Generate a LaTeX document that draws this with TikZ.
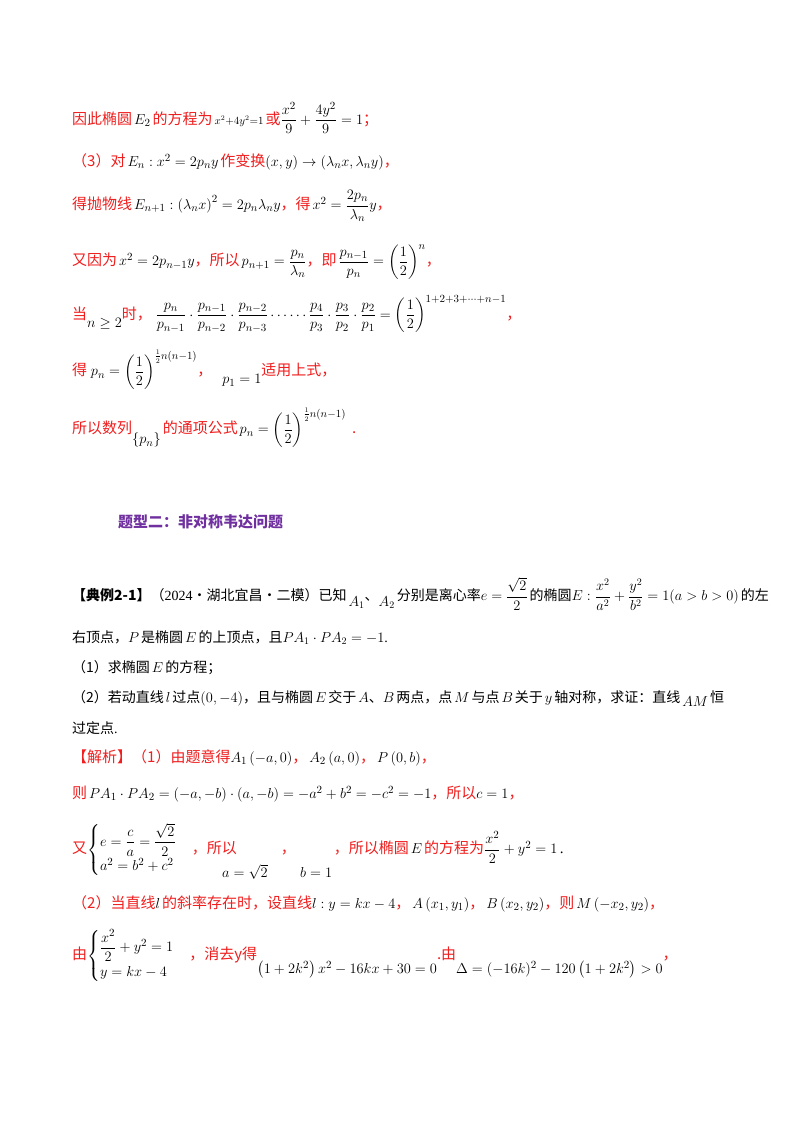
\documentclass[tikz,border=0pt]{standalone}
\usepackage{amsmath}
\usepackage{fontspec}
\setmainfont{Liberation Serif}
\newfontfamily\cjk{Noto Sans CJK SC}
\definecolor{rd}{RGB}{240,30,30}
\definecolor{pu}{RGB}{112,48,160}
\newcommand{\R}[1]{{\color{rd}\cjk #1}}
\newcommand{\C}[1]{{\cjk #1}}
\newcommand{\s}{\hspace{2pt}}
\begin{document}
\begin{tikzpicture}[x=1pt,y=-1pt,every node/.style={anchor=west,inner sep=0pt,font=\fontsize{15}{17}\selectfont},
  blk/.style={font=\fontsize{14}{16}\selectfont}]
\useasboundingbox[fill=white] (0,0) rectangle (800,1132);
\node (l1) at (72,118) {\R{因此椭圆}\s$E_2$\s\R{的方程为}\s$\scriptstyle x^2+4y^2=1$\s\R{或}$\dfrac{x^2}{9}+\dfrac{4y^2}{9}=1$\R{；}};
\node (l2) at (72,162) {\R{（3）对}\s$E_n:x^2=2p_ny$\s\R{作变换}$(x,y)\to\left(\lambda_nx,\lambda_ny\right)$\R{，}};
\node (l3) at (72,206) {\R{得抛物线}\s$E_{n+1}:\left(\lambda_nx\right)^2=2p_n\lambda_ny$\R{，得}\s$x^2=\dfrac{2p_n}{\lambda_n}y$\R{，}};
\node (l4) at (72,262) {\R{又因为}\s$x^2=2p_{n-1}y$\R{，所以}\s$p_{n+1}=\dfrac{p_n}{\lambda_n}$\R{，即}\s$\dfrac{p_{n-1}}{p_n}=\left(\dfrac12\right)^{n}$\R{，}};
\node (l5) at (72,314) {\R{当}\raisebox{-8pt}{$n\ge2$}\R{时，}\ $\dfrac{p_n}{p_{n-1}}\cdot\dfrac{p_{n-1}}{p_{n-2}}\cdot\dfrac{p_{n-2}}{p_{n-3}}\cdots\cdots\dfrac{p_4}{p_3}\cdot\dfrac{p_3}{p_2}\cdot\dfrac{p_2}{p_1}=\left(\dfrac12\right)^{1+2+3+\cdots+n-1}$\R{，}};
\node (l6) at (72,370) {\R{得}\ $p_n=\left(\dfrac12\right)^{\frac12n(n-1)}$\R{，}\hspace{10pt}\raisebox{-8pt}{$p_1=1$}\R{适用上式，}};
\node (l7) at (72,428) {\R{所以数列}\raisebox{-10pt}{$\{p_n\}$}\s\R{的通项公式}\s$p_n=\left(\dfrac12\right)^{\frac12n(n-1)}$\hspace{6pt}\R{.}};
\node (t) at (118,522) {{\color{pu}\cjk\bfseries 题型二：非对称韦达问题}};
\node[blk] (e1) at (72,594) {\C{\bfseries 【典例2-1】}\C{（}2024\C{·湖北宜昌·二模）已知}\s\raisebox{-6pt}{$A_1$}\C{、}\raisebox{-6pt}{$A_2$}\s\C{分别是离心率}$e=\dfrac{\sqrt2}{2}$\s\C{的椭圆}$E:\dfrac{x^2}{a^2}+\dfrac{y^2}{b^2}=1(a>b>0)$\s\C{的左}};
\node[blk] (e2) at (72,638) {\C{右顶点，}$P$\s\C{是椭圆}\s$E$\s\C{的上顶点，且}$PA_1\cdot PA_2=-1$.};
\node[blk] (e3) at (72,668) {\C{（1）求椭圆}\s$E$\s\C{的方程；}};
\node[blk] (e4) at (72,698) {\C{（2）若动直线}\s$l$\s\C{过点}$\left(0,-4\right)$\C{，且与椭圆}\s$E$\s\C{交于}\s$A$\C{、}$B$\s\C{两点，点}\s$M$\s\C{与点}\s$B$\s\C{关于}\s$y$\s\C{轴对称，求证：直线}\s\raisebox{-4pt}{$AM$}\s\C{恒}};
\node[blk] (e5) at (72,728) {\C{过定点}.};
\node (s1) at (72,758) {\R{【解析】（1）由题意得}$A_1\left(-a,0\right)$\R{，}\s$A_2\left(a,0\right)$\R{，}\s$P\left(0,b\right)$\R{，}};
\node (s2) at (72,794) {\R{则}\s$PA_1\cdot PA_2=(-a,-b)\cdot(a,-b)=-a^2+b^2=-c^2=-1$\R{，所以}$c=1$\R{，}};
\node (s3) at (72,850) {\R{又}$\begin{cases}e=\dfrac{c}{a}=\dfrac{\sqrt2}{2}\\[2pt] a^2=b^2+c^2\end{cases}$\R{，所以}\hspace{44pt}\R{，}\hspace{38pt}\R{，所以椭圆}\s$E$\s\R{的方程为}$\dfrac{x^2}{2}+y^2=1$\,.};
\node (s3a) at (222,872) {$a=\sqrt2$};
\node (s3b) at (300,872) {$b=1$};
\node (s4) at (72,904) {\R{（2）当直线}$l$\s\R{的斜率存在时，设直线}$l:y=kx-4$\R{，}\s$A\left(x_1,y_1\right)$\R{，}\s$B\left(x_2,y_2\right)$\R{，则}\s$M\left(-x_2,y_2\right)$\R{，}};
\node (s5) at (72,956) {\R{由}$\begin{cases}\dfrac{x^2}{2}+y^2=1\\[2pt] y=kx-4\end{cases}$\R{，消去y得}\raisebox{-14pt}{$\left(1+2k^2\right)x^2-16kx+30=0$}\R{.由}\raisebox{-14pt}{$\Delta=(-16k)^2-120\left(1+2k^2\right)>0$}\R{，}};
\end{tikzpicture}
\end{document}
